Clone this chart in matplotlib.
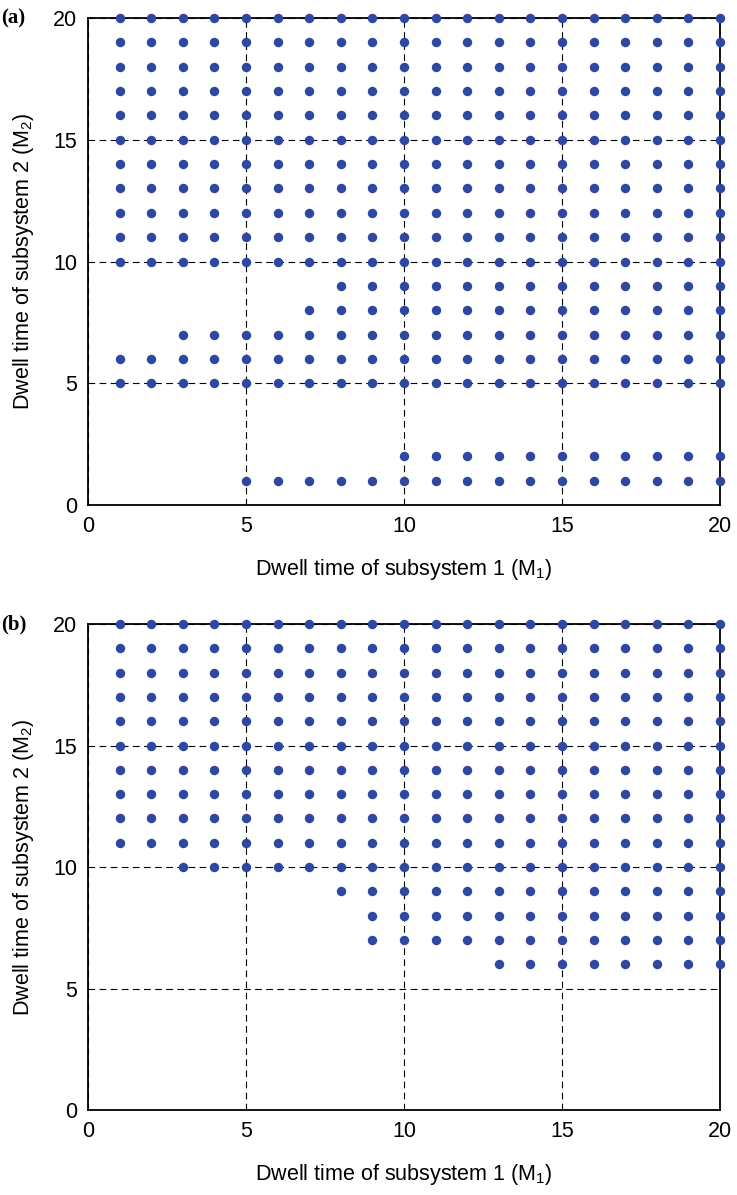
import numpy as np
import matplotlib
matplotlib.use("Agg")
from matplotlib import pyplot as plt

plt.rcParams['font.family'] = ['Liberation Sans', 'DejaVu Sans']

# rows of feasible (M1, M2) pairs: for each M2 the smallest feasible M1 (rows run up to M1 = 20)
a_m2 = [1, 2, 5, 6, 7, 8, 9, 10, 11, 12, 13, 14, 15, 16, 17, 18, 19, 20]
a_m1_start = [5, 10, 1, 1, 3, 7, 8, 1, 1, 1, 1, 1, 1, 1, 1, 1, 1, 1]

b_m2 = [6, 7, 8, 9, 10, 11, 12, 13, 14, 15, 16, 17, 18, 19, 20]
b_m1_start = [13, 9, 9, 8, 3, 1, 1, 1, 1, 1, 1, 1, 1, 1, 1]

m1_max = 20
ticks = [0, 5, 10, 15, 20]
dot_color = '#2E47A0'


def expand(m2_rows, starts):
    xs, ys = [], []
    for m2, s in zip(m2_rows, starts):
        for m1 in range(s, m1_max + 1):
            xs.append(m1); ys.append(m2)
    return np.array(xs), np.array(ys)


fig = plt.figure(figsize=(7.37, 11.95), dpi=100)
ax_a = fig.add_axes([0.1194, 0.5774, 0.8575, 0.4075])
ax_b = fig.add_axes([0.1194, 0.0711, 0.8575, 0.4067])

for ax, rows, starts, tag in [(ax_a, a_m2, a_m1_start, '(a)'),
                              (ax_b, b_m2, b_m1_start, '(b)')]:
    x, y = expand(rows, starts)
    ax.plot(x, y, 'o', color=dot_color, ms=6.8, mec='none', clip_on=False, zorder=5)
    ax.set_xlim(0, 20); ax.set_ylim(0, 20)
    ax.set_xticks(ticks); ax.set_yticks(ticks)
    ax.grid(True, color='black', ls=(0, (6, 4)), lw=0.8)
    ax.tick_params(direction='in', length=0, labelsize=15.5, pad=8)
    for sp in ax.spines.values():
        sp.set_linewidth(1.3)
    ax.set_xlabel('Dwell time of subsystem 1 (M$_\\mathregular{1}$)', fontsize=15.5, labelpad=14)
    ax.set_ylabel('Dwell time of subsystem 2 (M$_\\mathregular{2}$)', fontsize=15.5, labelpad=12)
    pos = ax.get_position()
    fig.text(0.002, pos.y1, tag, fontsize=15, fontweight='bold',
             family='Liberation Serif', va='center', ha='left')

fig.savefig('out.png', dpi=100)
